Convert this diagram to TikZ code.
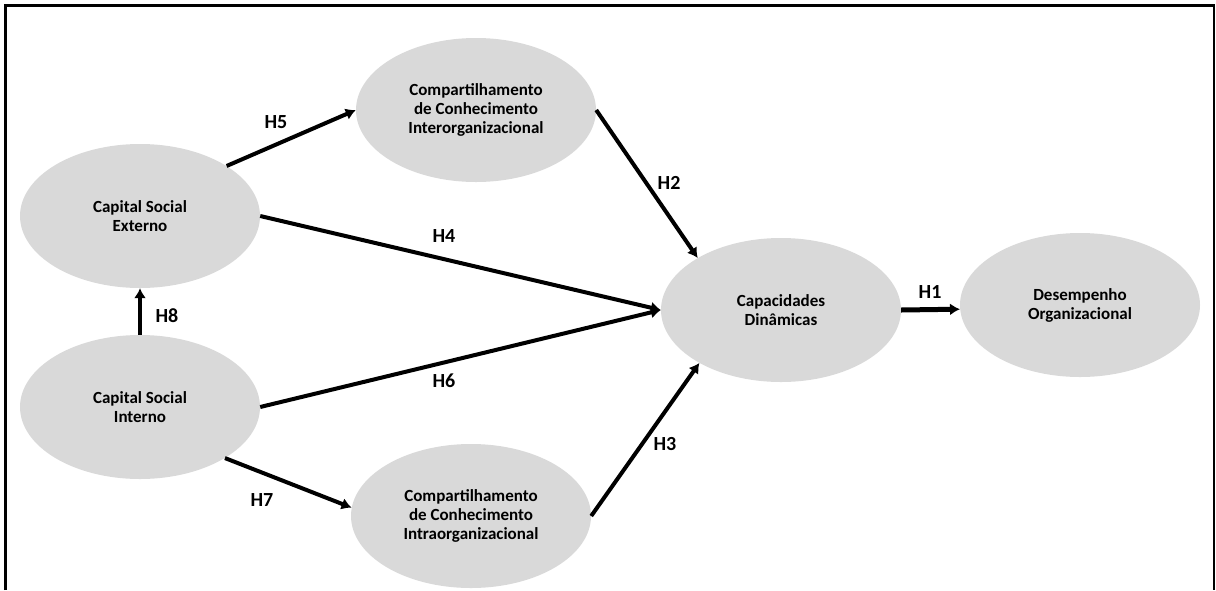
\documentclass[tikz,border=0pt]{standalone}
\usepackage{fontspec}
\setmainfont{Carlito}
\usepackage{tikz}
\usetikzlibrary{arrows.meta,positioning,shapes.geometric}
\definecolor{construct}{HTML}{D9D9D9}

\begin{document}
\begin{tikzpicture}[x=1pt,y=-1pt,
  var/.style={ellipse,fill=construct,minimum width=240pt,minimum height=144pt,inner sep=0pt,
    font=\fontsize{17}{19}\selectfont\bfseries,align=center},
  hyp/.style={font=\fontsize{20}{24}\selectfont\bfseries},
  link/.style={line width=4pt,-{Latex[length=10pt,width=12pt]}},
]
  \useasboundingbox (0,0) rectangle (1216,590);
  \draw[line width=2.5pt] (5.3,590) -- (5.3,5.5) -- (1214,5.5) -- (1214,590);

  \node[var] (cse) at (140,216) {Capital Social\\Externo};
  \node[var] (csi) at (140,407) {Capital Social\\Interno};
  \node[var] (cci) at (476,110) {Compartilhamento\\de Conhecimento\\Interorganizacional};
  \node[var] (cca) at (471,516) {Compartilhamento\\de Conhecimento\\Intraorganizacional};
  \node[var] (cd) at (781,310) {Capacidades\\Dinâmicas};
  \node[var] (do) at (1080,305) {Desempenho\\Organizacional};

  \draw[link] (cse.30) -- (cci.west);
  \draw[link] (cse.east) -- (cd.west);
  \draw[link] (csi.east) -- (cd.west);
  \draw[link] (csi.north) -- (cse.south);
  \draw[link] (csi.-31) -- (cca.176);
  \draw[link] (cca.east) -- (cd.-147);
  \draw[link] (cci.east) -- (cd.148);
  \draw[link,line width=5pt] (cd.east) -- (do.182);

  \node[hyp] (h1) at (930,292) {H1};
  \node[hyp] (h2) at (669,183) {H2};
  \node[hyp] (h3) at (665,444) {H3};
  \node[hyp] (h4) at (444,236) {H4};
  \node[hyp] (h5) at (276,122) {H5};
  \node[hyp] (h6) at (444,381) {H6};
  \node[hyp] (h7) at (262,500) {H7};
  \node[hyp] (h8) at (167,316) {H8};
\end{tikzpicture}
\end{document}
